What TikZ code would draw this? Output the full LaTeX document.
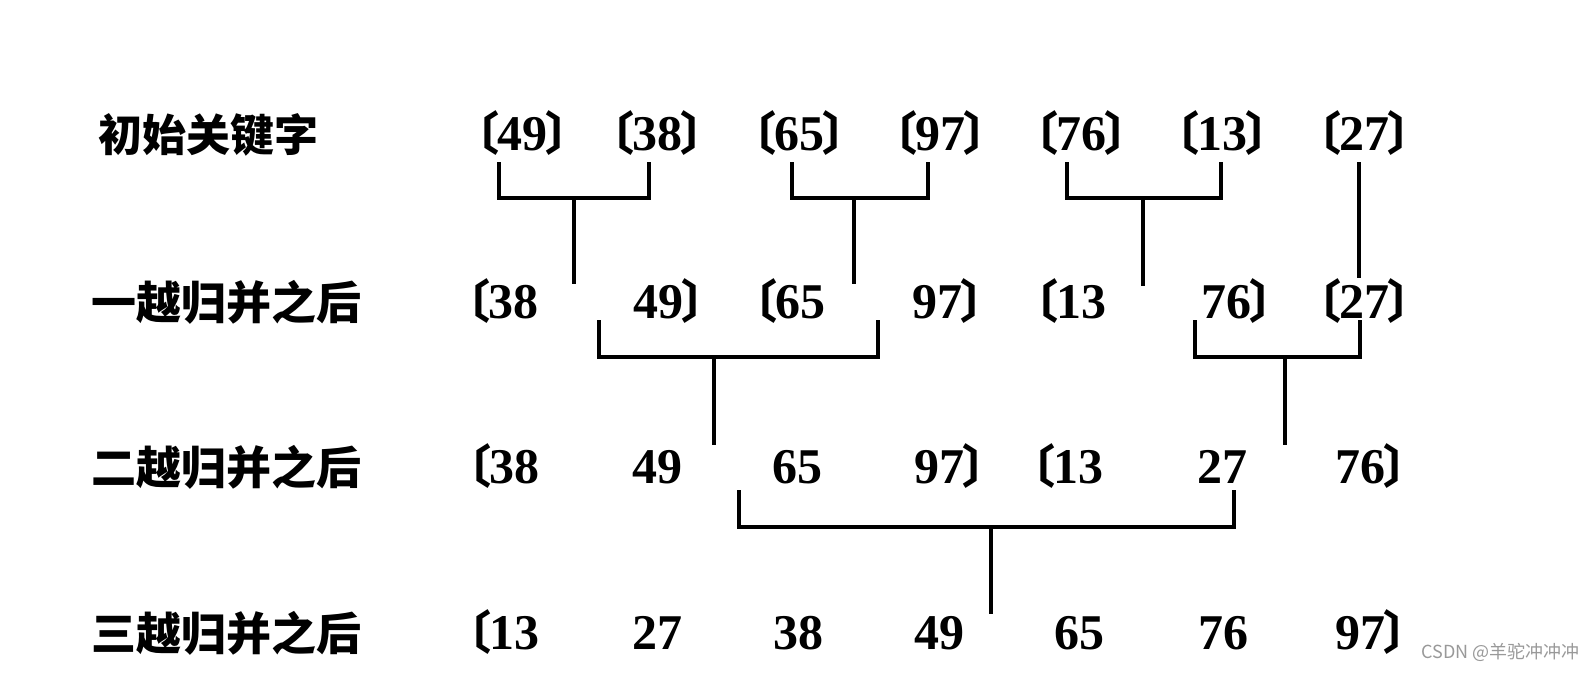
\documentclass[tikz,border=0pt]{standalone}
\usepackage{fontspec}
\newfontfamily\cjk{Noto Sans CJK SC}
\newfontfamily\numf{Liberation Serif}
\newcommand\LB{\llap{\cjk\bfseries\fontsize{46}{46}\selectfont 〔\kern-2pt}}
\newcommand\RB{\rlap{\cjk\bfseries\fontsize{46}{46}\selectfont \kern-2pt〕}}
\tikzset{
  num/.style={anchor=base, inner sep=0pt, font=\numf\bfseries\fontsize{50}{50}\selectfont},
  lab/.style={anchor=base west, inner sep=0pt, font=\cjk\bfseries\fontsize{45}{45}\selectfont},
  link/.style={line width=3.6pt, line cap=rect, line join=miter},
  wmark/.style={font=\cjk\fontsize{18}{18}\selectfont, text=black!40, inner sep=0pt}
}
\begin{document}
\begin{tikzpicture}[x=1pt,y=-1pt]
\useasboundingbox[fill=white] (0,0) rectangle (1592,696);
% labels
\node[lab, font=\cjk\bfseries\fontsize{44}{44}\selectfont] (l0) at (98,151) {初始关键字};
\node[lab] (l1) at (91,319) {一越归并之后};
\node[lab] (l2) at (91,484) {二越归并之后};
\node[lab] (l3) at (91,650) {三越归并之后};
% row 0
\node[num] (a1) at (522,150) {\LB49\RB};
\node[num] (a2) at (657,150) {\LB38\RB};
\node[num] (a3) at (799,150) {\LB65\RB};
\node[num] (a4) at (940,150) {\LB97\RB};
\node[num] (a5) at (1081,150) {\LB76\RB};
\node[num] (a6) at (1222,150) {\LB13\RB};
\node[num] (a7) at (1364,150) {\LB27\RB};
% row 1
\node[num] (b1) at (513,318) {\LB38};
\node[num] (b2) at (658,318) {49\RB};
\node[num] (b3) at (800,318) {\LB65};
\node[num] (b4) at (937,318) {97\RB};
\node[num] (b5) at (1081,318) {\LB13};
\node[num] (b6) at (1226,318) {76\RB};
\node[num] (b7) at (1364,318) {\LB27\RB};
% row 2
\node[num] (c1) at (514,483) {\LB38};
\node[num] (c2) at (657,483) {49};
\node[num] (c3) at (797,483) {65};
\node[num] (c4) at (939,483) {97\RB};
\node[num] (c5) at (1078,483) {\LB13};
\node[num] (c6) at (1222,483) {27};
\node[num] (c7) at (1360,483) {76\RB};
% row 3
\node[num] (d1) at (514,649) {\LB13};
\node[num] (d2) at (657,649) {27};
\node[num] (d3) at (798,649) {38};
\node[num] (d4) at (939,649) {49};
\node[num] (d5) at (1079,649) {65};
\node[num] (d6) at (1223,649) {76};
\node[num] (d7) at (1360,649) {97\RB};
% connector coordinates
\coordinate (p1) at (574,282);
\coordinate (p2) at (854,282);
\coordinate (p3) at (1143,284);
\coordinate (p4) at (1359,276);
\coordinate (q1) at (714,443);
\coordinate (q2) at (1285,443);
\coordinate (s1) at (991,612);
% pass 1
\draw[link] (499,164) |- (574,198) -| (649,164);
\draw[link] (574,198) -- (p1);
\draw[link] (792,164) |- (854,198) -| (928,164);
\draw[link] (854,198) -- (p2);
\draw[link] (1067,164) |- (1143,198) -| (1221,164);
\draw[link] (1143,198) -- (p3);
\draw[link] (1359,164) -- (p4);
% pass 2
\draw[link] (599,322) |- (714,357) -| (878,322);
\draw[link] (714,357) -- (q1);
\draw[link] (1195,322) |- (1285,357) -| (1360,322);
\draw[link] (1285,357) -- (q2);
% pass 3
\draw[link] (739,492) |- (991,527) -| (1234,492);
\draw[link] (991,527) -- (s1);
% watermark
\node[wmark, anchor=east] (wm) at (1580,652) {CSDN @羊驼冲冲冲};
\end{tikzpicture}
\end{document}
